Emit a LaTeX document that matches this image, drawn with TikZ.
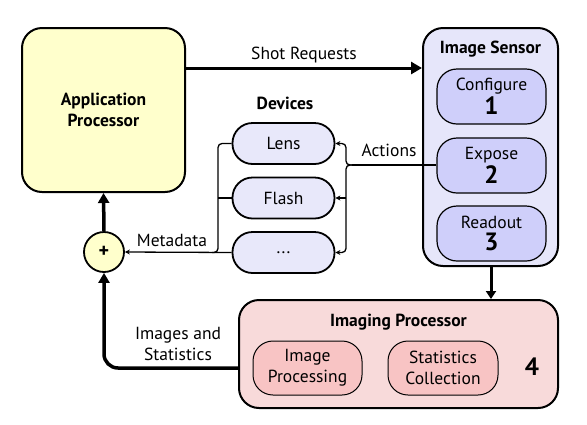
\documentclass[tikz,border=0pt]{standalone}
\usepackage{fontspec}
\setmainfont{PT Sans}
\usetikzlibrary{arrows.meta}
\definecolor{apfill}{HTML}{FFFFCC}
\definecolor{senfill}{HTML}{E6E6FA}
\definecolor{seninner}{HTML}{CFCFFA}
\definecolor{devfill}{HTML}{E8E8FA}
\definecolor{ipfill}{HTML}{F8DADA}
\definecolor{ipinner}{HTML}{F8C4C4}
\begin{document}
\begin{tikzpicture}[x=1pt,y=-1pt,font=\fontsize{17.5}{21}\selectfont,
  bigbox/.style={draw=black,line width=2pt,rounded corners=20pt,inner sep=0pt},
  pill/.style={draw=black,line width=1.2pt,rounded corners=20pt,inner sep=0pt,align=center,font=\fontsize{17.5}{21}\selectfont},
  ttl/.style={font=\bfseries\fontsize{17.5}{21}\selectfont},
  num/.style={font=\bfseries\fontsize{25}{25}\selectfont},
  thin/.style={line width=1.3pt,-{Stealth[length=5pt,width=5pt]}},
  thick/.style={line width=3.5pt,-{Triangle[length=10pt,width=11pt]}}]
\useasboundingbox (0,0) rectangle (587,424);
% Application processor
\node[bigbox,fill=apfill,minimum width=163pt,minimum height=164pt,ttl,align=center] (ap) at (103.5,110) {Application\\Processor};
% Image sensor
\node[bigbox,fill=senfill,minimum width=135pt,minimum height=238pt] (sensor) at (490.5,147) {};
\node[ttl] (sentitle) at (490.5,49) {Image Sensor};
\node[pill,fill=seninner,minimum width=109pt,minimum height=55pt] (configure) at (491.5,96.5) {Configure\\[1pt]{\bfseries\fontsize{25}{25}\selectfont 1}};
\node[pill,fill=seninner,minimum width=109pt,minimum height=55pt] (expose) at (491.5,165.5) {Expose\\[1pt]{\bfseries\fontsize{25}{25}\selectfont 2}};
\node[pill,fill=seninner,minimum width=109pt,minimum height=55pt] (readout) at (491.5,233.5) {Readout\\[1pt]{\bfseries\fontsize{25}{25}\selectfont 3}};
% Devices
\node[ttl] (devtitle) at (285,103) {Devices};
\node[pill,line width=1.8pt,fill=devfill,minimum width=102pt,minimum height=41pt] (lens) at (283.5,143.5) {Lens};
\node[pill,line width=1.8pt,fill=devfill,minimum width=102pt,minimum height=41pt] (flash) at (283.5,198) {Flash};
\node[pill,line width=1.8pt,fill=devfill,minimum width=102pt,minimum height=41pt] (dots) at (283.5,252.5) {...};
% plus
\node[circle,draw=black,line width=1.8pt,fill=apfill,minimum size=40pt,inner sep=0pt,font=\bfseries\fontsize{20}{20}\selectfont] (plus) at (104,252) {+};
% Imaging processor
\node[bigbox,fill=ipfill,minimum width=319pt,minimum height=108pt] (ip) at (398.5,354) {};
\node[ttl] (iptitle) at (398.5,322) {Imaging Processor};
\node[pill,line width=1pt,fill=ipinner,minimum width=109pt,minimum height=54pt] (improc) at (307.5,368) {Image\\Processing};
\node[pill,line width=1pt,fill=ipinner,minimum width=110pt,minimum height=54pt] (statcol) at (443,368) {Statistics\\Collection};
\node[num] (four) at (532,367) {4};
% Shot requests
\draw[line width=3pt,-{Triangle[length=11pt,width=12pt]}] (ap.east|-0,68) -- (sensor.west|-0,68);
\node (shotlbl) at (304,55) {Shot Requests};
% Actions
\coordinate (aj) at (352,165);
\draw[line width=1.3pt] (expose.west|-aj) -- (aj);
\draw[thin,rounded corners=4pt] (aj) -- (346,165) |- (lens.east);
\draw[thin,rounded corners=4pt] (aj) -- (346,165) |- (dots.east);
\draw[thin] (346,198) -- (flash.east);
\node (actlbl) at (389,150) {Actions};
% Metadata
\coordinate (mj) at (212,252.5);
\draw[line width=1.3pt,rounded corners=4pt] (lens.west) -| (218,252.5) -- (mj);
\draw[line width=1.3pt,rounded corners=4pt] (flash.west) -- (218,198);
\draw[thin] (dots.west) -- (plus.east);
\node (metalbl) at (172,240) {Metadata};
% plus -> AP
\draw[thick] (plus.north) -- (ap.south);
% Images and statistics
\draw[thick,rounded corners=14pt] (ip.west|-0,368) -| (plus.south);
\node[align=center] (imglbl) at (178,344) {Images and\\Statistics};
% sensor -> ip
\draw[line width=3pt,-{Triangle[length=8pt,width=10pt]}] (sensor.south-|491,0) -- (ip.north-|491,0);
\end{tikzpicture}
\end{document}
